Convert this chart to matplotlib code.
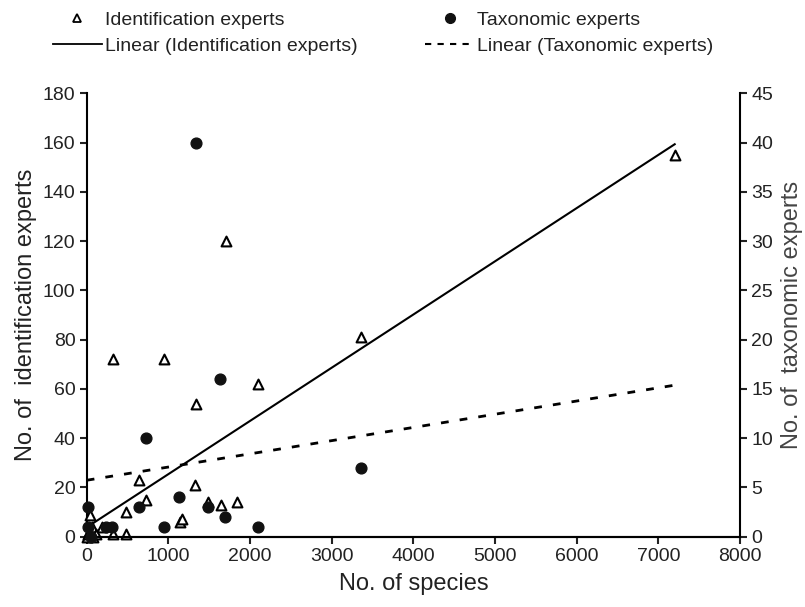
# Species vs. number of identification / taxonomic experts
import numpy as np
import matplotlib
matplotlib.use("Agg")
import matplotlib.pyplot as plt
from matplotlib.lines import Line2D

plt.rcParams['font.family'] = ['Liberation Sans', 'DejaVu Sans']

# Identification experts (left axis)
id_species = [0, 20, 30, 40, 60, 80, 110, 184, 320, 326, 477, 477, 644, 726, 950,
              1142, 1170, 1326, 1338, 1490, 1640, 1701, 1843, 2101, 3357, 7200]
id_experts = [0, 1, 2, 9, 4, 0, 1, 4, 1, 72, 10, 1, 23, 15, 72,
              6, 7, 21, 54, 14, 13, 120, 14, 62, 81, 155]

# Taxonomic experts (right axis)
tax_species = [12, 20, 50, 232, 306, 644, 726, 950, 1134, 1338, 1481, 1636, 1697, 2100, 3354]
tax_experts = [3, 1, 0, 1, 1, 3, 10, 1, 4, 40, 3, 16, 2, 1, 7]

# Excel-style linear trend lines (slope, intercept)
id_fit = [0.0216, 3.8]
tax_fit = [0.00134, 5.73]
fit_range = [0, 7200]

text_col = "#222222"

fig = plt.figure(figsize=(8.05, 6.07), dpi=100)
ax = fig.add_axes([0.1077, 0.1158, 0.8116, 0.7305])
ax2 = ax.twinx()

xs = np.array(fit_range)
ax.plot(xs, np.polyval(id_fit, xs), color="black", lw=1.5, zorder=2)
ax2.plot(xs, np.polyval(tax_fit, xs), color="black", lw=2, dashes=(2.8, 4), zorder=2)

ax.scatter(id_species, id_experts, marker="^", s=50, facecolor="white",
           edgecolor="black", linewidth=1.5, zorder=3, clip_on=False)
ax2.scatter(tax_species, tax_experts, marker="o", s=60, color="#111111",
            zorder=3, clip_on=False)

ax.set_xlim(0, 8000)
ax.set_ylim(0, 180)
ax2.set_ylim(0, 45)
ax.set_xticks(range(0, 8001, 1000))
ax.set_yticks(range(0, 181, 20))
ax2.set_yticks(range(0, 46, 5))

for a in (ax, ax2):
    a.spines['top'].set_visible(False)
    for s in a.spines.values():
        s.set_linewidth(1.5)
    a.tick_params(width=1.5, length=5, labelsize=14, colors=text_col, pad=3)
ax2.spines['left'].set_visible(False)
ax.spines['right'].set_visible(False)

ax.set_xlabel("No. of species", fontsize=17, color=text_col, labelpad=6)
ax.set_ylabel("No. of  identification experts", fontsize=17, color=text_col, labelpad=4)
ax2.set_ylabel("No. of  taxonomic experts", fontsize=17, color="#444444", labelpad=6)

handles = [
    Line2D([], [], marker="^", ls="none", markersize=6, markerfacecolor="white",
           markeredgecolor="black", markeredgewidth=1.3),
    Line2D([], [], color="black", lw=1.3),
    Line2D([], [], marker="o", ls="none", markersize=7, color="#111111"),
    Line2D([], [], color="black", lw=1.5, dashes=(3, 3)),
]
labels = ["Identification experts", "Linear (Identification experts)",
          "Taxonomic experts", "Linear (Taxonomic experts)"]
fig.legend(handles, labels, loc="upper left", bbox_to_anchor=(53 / 805, 0.982),
           ncol=2, frameon=False, fontsize=14, handlelength=2.5, handletextpad=0.15,
           columnspacing=3.5, labelspacing=0.45, borderpad=0, borderaxespad=0,
           labelcolor=text_col)

fig.savefig("out.png", dpi=100)
